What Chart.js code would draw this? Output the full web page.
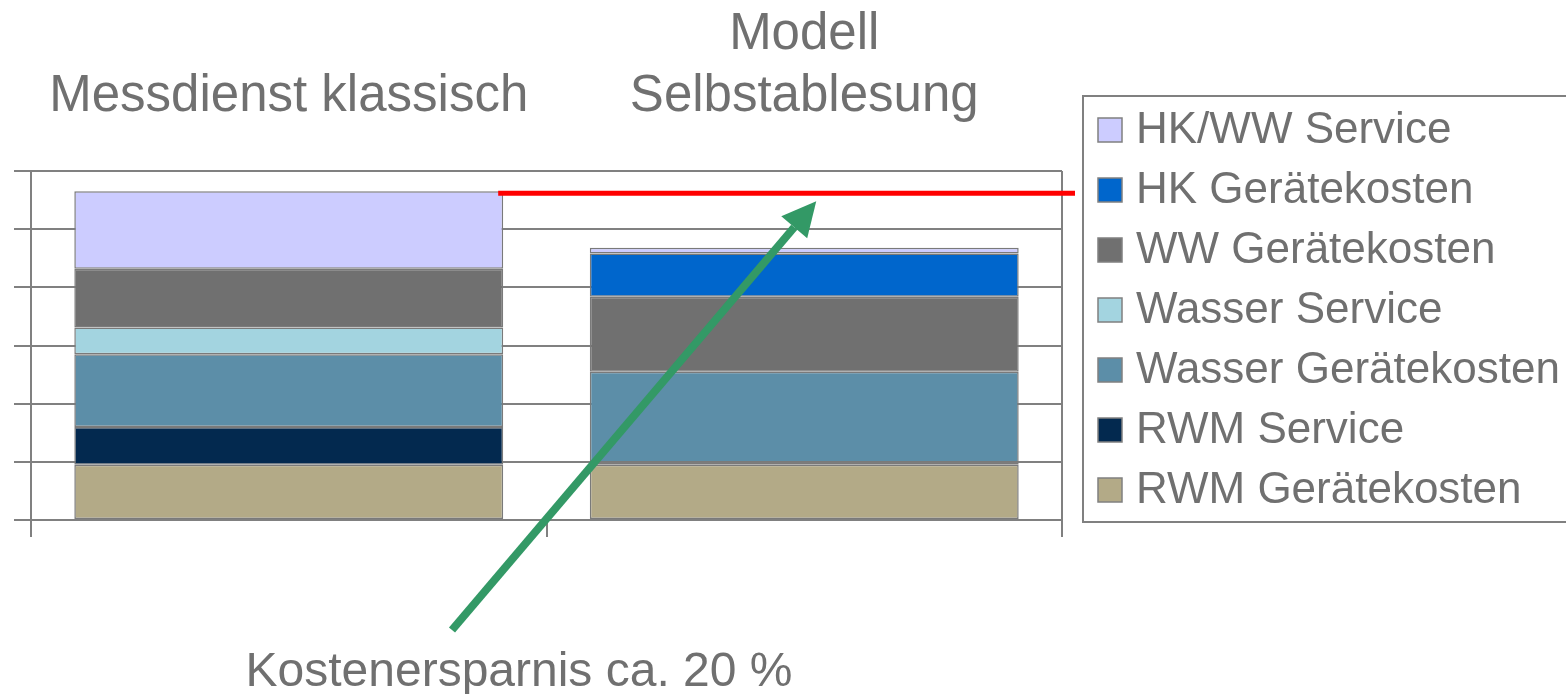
<!DOCTYPE html>
<html>
<head>
<meta charset="utf-8">
<script src="https://cdn.jsdelivr.net/npm/chart.js@4.4.0/dist/chart.umd.min.js"></script>
<style>
  body { margin: 0; background: #fff; }
  #wrap { width: 1566px; height: 694px; }
</style>
</head>
<body>
<div id="wrap"><canvas id="kostenChart"></canvas></div>
<script>
// Kategorien (Balken)
const kategorien = ['Messdienst klassisch', 'Modell Selbstablesung'];
const kategorieTitel = [['Messdienst klassisch'], ['Modell', 'Selbstablesung']];

// Kostenanteile je Modell, von unten nach oben gestapelt
const serienNamen = ['RWM Gerätekosten', 'RWM Service', 'Wasser Gerätekosten', 'Wasser Service',
                     'WW Gerätekosten', 'HK Gerätekosten', 'HK/WW Service'];
const rwmGeraete    = [0.95, 0.95];
const rwmService    = [0.65, 0.04];
const wasserGeraete = [1.25, 1.56];
const wasserService = [0.46, 0];
const wwGeraete     = [1.01, 1.29];
const hkGeraete     = [0, 0.74];
const hkwwService   = [1.33, 0.10];
const serienFarben = ['#b3aa87', '#03294f', '#5c8ea8', '#a3d4e0', '#707070', '#0066cc', '#ccccff'];

const textFarbe = '#707070';
const linienFarbe = '#808080';
const hinweis = 'Kostenersparnis ca. 20 %';

const werte = [rwmGeraete, rwmService, wasserGeraete, wasserService, wwGeraete, hkGeraete, hkwwService];
const gesamtKlassisch = werte.reduce((s, w) => s + w[0], 0);

const extras = {
  id: 'extras',
  afterDraw(chart) {
    const c = chart.ctx;
    const a = chart.chartArea;
    const x = chart.scales.x, y = chart.scales.y;
    c.save();

    // rechter Rahmen des Diagrammbereichs
    c.strokeStyle = linienFarbe;
    c.lineWidth = 2;
    c.beginPath();
    c.moveTo(a.right, a.top);
    c.lineTo(a.right, a.bottom);
    c.stroke();

    // Titel über den Balken
    c.fillStyle = textFarbe;
    c.font = '51px "Liberation Sans", Arial, sans-serif';
    c.textAlign = 'center';
    c.textBaseline = 'alphabetic';
    kategorieTitel.forEach((zeilen, i) => {
      const cx = x.getPixelForValue(i);
      zeilen.forEach((z, j) => {
        c.fillText(z, cx, 111 - (zeilen.length - 1 - j) * 62);
      });
    });

    // rote Linie auf Höhe der klassischen Gesamtkosten
    const bar1 = chart.getDatasetMeta(0).data[0];
    const yRot = y.getPixelForValue(gesamtKlassisch) + 2;
    c.strokeStyle = '#ff0000';
    c.lineWidth = 5;
    c.beginPath();
    c.moveTo(bar1.x + bar1.width / 2 - 5, yRot);
    c.lineTo(a.right + 13, yRot);
    c.stroke();

    // grüner Pfeil
    const tipX = x.getPixelForValue(1) + 12, tipY = yRot + 8;
    const tailX = 452, tailY = 630;
    const ang = Math.atan2(tipY - tailY, tipX - tailX);
    const kopf = 34, breite = 17;
    const baseX = tipX - kopf * Math.cos(ang), baseY = tipY - kopf * Math.sin(ang);
    c.strokeStyle = '#339966';
    c.fillStyle = '#339966';
    c.lineWidth = 8;
    c.beginPath();
    c.moveTo(tailX, tailY);
    c.lineTo(baseX, baseY);
    c.stroke();
    c.beginPath();
    c.moveTo(tipX, tipY);
    c.lineTo(baseX + breite * Math.sin(ang), baseY - breite * Math.cos(ang));
    c.lineTo(baseX - breite * Math.sin(ang), baseY + breite * Math.cos(ang));
    c.closePath();
    c.fill();

    // Hinweistext unten
    c.fillStyle = textFarbe;
    c.font = '48px "Liberation Sans", Arial, sans-serif';
    c.fillText(hinweis, 519, 686);

    // Legende (oberste Serie zuerst)
    c.strokeStyle = linienFarbe;
    c.lineWidth = 2;
    c.strokeRect(1083, 96, 500, 426);
    c.font = '44px "Liberation Sans", Arial, sans-serif';
    c.textAlign = 'left';
    const ds = chart.data.datasets;
    for (let k = 0; k < ds.length; k++) {
      const d = ds[ds.length - 1 - k];
      const base = 143 + k * 60;
      c.fillStyle = d.backgroundColor;
      c.fillRect(1098, base - 25, 24, 24);
      c.lineWidth = 1.5;
      c.strokeStyle = linienFarbe;
      c.strokeRect(1098, base - 25, 24, 24);
      c.fillStyle = textFarbe;
      c.fillText(d.label, 1136, base);
    }
    c.restore();
  }
};

const ctx = document.getElementById('kostenChart').getContext('2d');
const kostenChart = new Chart(ctx, {
  type: 'bar',
  data: {
    labels: kategorien,
    datasets: serienNamen.map((name, i) => ({
      label: name,
      data: werte[i],
      backgroundColor: serienFarben[i],
      borderColor: '#7a7a7a',
      borderWidth: 1.5,
      borderSkipped: false,
      barPercentage: 1,
      categoryPercentage: 0.832
    }))
  },
  options: {
    responsive: true,
    maintainAspectRatio: false,
    animation: false,
    layout: { padding: { top: 171, right: 504, left: 0, bottom: 0 } },
    plugins: { legend: { display: false }, tooltip: { enabled: false } },
    scales: {
      x: {
        stacked: true,
        grid: { drawOnChartArea: false, drawTicks: true, tickLength: 17, color: linienFarbe, lineWidth: 2, offset: true },
        border: { color: linienFarbe, width: 2 },
        ticks: { display: false },
        afterFit: (s) => { s.height = 174; }
      },
      y: {
        stacked: true,
        min: 0,
        max: 6,
        ticks: { display: false, stepSize: 1 },
        grid: { color: linienFarbe, lineWidth: 2, tickLength: 17 },
        border: { color: linienFarbe, width: 2 },
        afterFit: (s) => { s.width = 31; }
      }
    }
  },
  plugins: [extras]
});
</script>
</body>
</html>
